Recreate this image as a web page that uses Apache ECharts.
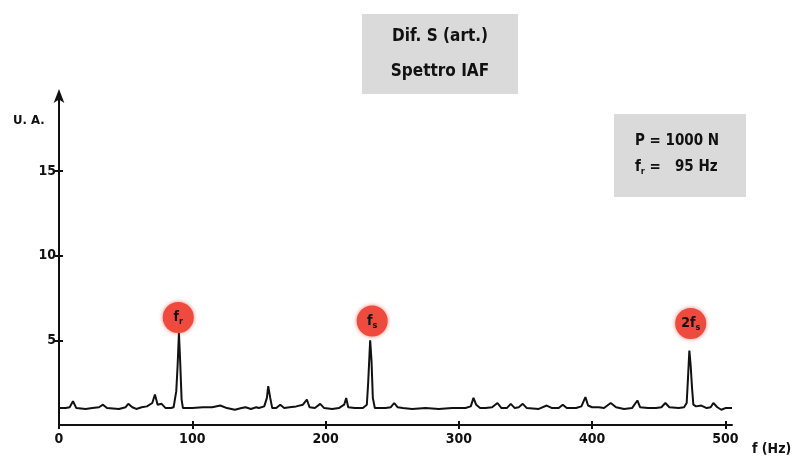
<!DOCTYPE html>
<html>
<head>
<meta charset="utf-8">
<script src="https://cdn.jsdelivr.net/npm/echarts@6/dist/echarts.min.js"></script>
<style>
html,body{margin:0;padding:0;background:#fff;}
#chart{width:800px;height:460px;}
</style>
</head>
<body>
<div id="chart"></div>
<script>
// ---- data ----
const freqHz = [0,5,8,10.5,13,20,25,30,33,36,45,50,52,55,58,62,66,70,72,74,77,80,84,86,88,89,90,91,92,93,
  100,108,115,121,126,132,137,140,144,148,150,154,156,157,158.5,160,163,166,169,173,178,183,186,188,192,196,199,
  205,210,214,215.5,217,222,228,231,232,233,233.5,234.5,235.5,237,245,249,251.5,254,258,265,275,285,295,
  300,305,309,311,313,316,320,325,329,332,336,339,342,345,348,351,360,366,370,375,378,381,388,392,395,397,
  400,405,409,414,418,424,430,434,436,442,448,452,455,458,465,469,471,472,473,474,475,476,478,482,486,489,491,494,497,500,505];
const amplitude = [1.0,1.0,1.05,1.4,1.0,0.95,1.0,1.05,1.2,1.0,0.95,1.05,1.25,1.05,0.95,1.05,1.1,1.3,1.8,1.2,1.25,1.0,1.0,1.05,2.0,3.5,5.45,3.6,1.5,1.0,
  1.0,1.05,1.05,1.15,1.0,0.9,1.0,1.05,0.95,1.05,1.0,1.1,1.6,2.3,1.6,1.0,1.0,1.2,1.0,1.05,1.1,1.2,1.5,1.05,1.0,1.25,1.0,
  0.95,1.0,1.2,1.6,1.05,1.0,1.0,1.2,2.5,4.2,5.0,3.8,1.6,1.0,1.0,1.05,1.3,1.05,1.0,0.95,1.0,0.95,1.0,
  1.0,1.0,1.1,1.6,1.2,1.0,1.0,1.05,1.3,1.0,1.0,1.25,1.0,1.05,1.25,1.0,0.95,1.15,1.0,1.0,1.2,1.0,1.0,1.1,1.65,1.15,
  1.05,1.05,1.0,1.3,1.05,0.95,1.0,1.45,1.05,1.0,1.0,1.05,1.3,1.05,1.0,1.05,1.3,2.8,4.4,3.5,2.2,1.2,1.1,1.15,1.0,1.05,1.3,1.05,0.9,1.0,1.0];
const xTickValues = [0,100,200,300,400,500];
const yTickValues = [5,10,15];
const markerFreq = [89.5, 235, 474];
const markerLevel = [6.35, 6.15, 6.0];
const markerText = ['{m|f}{s|r}', '{m|f}{s|s}', '{m|2f}{s|s}'];
const titleLines = ['Dif. S (art.)', 'Spettro IAF'];
const infoLine1 = 'P = 1000 N';
const infoLine2 = '{b|f}{s|r}{b| =   95 Hz}';

const FONT = "'Liberation Sans Narrow','DejaVu Sans Condensed','Roboto Condensed','Arial Narrow',sans-serif";

const chart = echarts.init(document.getElementById('chart'), null, {renderer: 'canvas'});
const seriesData = freqHz.map((f, i) => [f, amplitude[i]]);

const subRich = {
  m: {fontFamily: FONT, fontWeight: 'bold', fontSize: 14, color: '#111'},
  b: {fontFamily: FONT, fontWeight: 'bold', fontSize: 15, color: '#111'},
  s: {fontFamily: FONT, fontWeight: 'bold', fontSize: 9, color: '#111', padding: [9, 0, 0, 0]}
};

chart.setOption({
  backgroundColor: '#ffffff',
  animation: false,
  grid: {left: 59, right: 68, top: 95, bottom: 35, containLabel: false},
  xAxis: [{
    type: 'value', min: 0, max: 505, position: 'bottom',
    splitLine: {show: false},
    axisLine: {show: true, onZero: false, lineStyle: {color: '#111', width: 2}},
    axisTick: {show: true, length: 4, customValues: xTickValues, lineStyle: {color: '#111', width: 2}},
    axisLabel: {customValues: xTickValues, margin: 7, color: '#111', fontFamily: FONT, fontWeight: 'bold', fontSize: 14},
    name: 'f (Hz)', nameLocation: 'end', nameGap: 20,
    nameTextStyle: {color: '#111', fontFamily: FONT, fontWeight: 'bold', fontSize: 14, verticalAlign: 'top', padding: [17, 0, 0, 0]}
  }, {
    type: 'value', min: 0, max: 505, position: 'bottom',
    splitLine: {show: false}, axisLine: {show: false}, axisLabel: {show: false},
    axisTick: {show: true, inside: true, length: 4, customValues: xTickValues, lineStyle: {color: '#111', width: 2}}
  }],
  yAxis: [{
    type: 'value', min: 0, max: 19.5,
    splitLine: {show: false},
    axisLine: {show: true, onZero: false, symbol: ['none', 'arrow'], symbolSize: [8, 14], symbolOffset: [0, 6],
      lineStyle: {color: '#111', width: 2}},
    axisTick: {show: true, length: 4, customValues: yTickValues, lineStyle: {color: '#111', width: 2}},
    axisLabel: {customValues: yTickValues, margin: 3, color: '#111', fontFamily: FONT, fontWeight: 'bold', fontSize: 14},
  }, {
    type: 'value', min: 0, max: 19.5, position: 'left',
    splitLine: {show: false}, axisLine: {show: false}, axisLabel: {show: false},
    axisTick: {show: true, inside: true, length: 4, customValues: yTickValues, lineStyle: {color: '#111', width: 2}}
  }],
  series: [{
    type: 'line',
    data: seriesData,
    showSymbol: false,
    symbol: 'none',
    lineStyle: {color: '#111', width: 2},
    z: 3,
    markPoint: {
      symbol: 'circle',
      symbolSize: 31,
      itemStyle: {color: '#ee4a3e', shadowColor: 'rgba(238,74,62,0.7)', shadowBlur: 4},
      label: {show: true, position: 'inside', rich: subRich, formatter: p => p.data.txt},
      data: markerFreq.map((f, i) => ({coord: [f, markerLevel[i]], txt: markerText[i]}))
    }
  }],
  graphic: [
    {type: 'rect', left: 362, top: 14, shape: {width: 156, height: 80}, style: {fill: '#dadada'}, z: 1},
    {type: 'text', x: 440, y: 37, style: {text: titleLines[0], align: 'center', verticalAlign: 'middle',
      font: "bold 17px " + FONT, fill: '#111'}, z: 2},
    {type: 'text', x: 440, y: 72, style: {text: titleLines[1], align: 'center', verticalAlign: 'middle',
      font: "bold 17px " + FONT, fill: '#111'}, z: 2},
    {type: 'rect', left: 614, top: 114, shape: {width: 132, height: 83}, style: {fill: '#dadada'}, z: 1},
    {type: 'text', x: 635, y: 141, style: {text: infoLine1, align: 'left', verticalAlign: 'middle',
      font: "bold 15px " + FONT, fill: '#111'}, z: 2},
    {type: 'text', x: 635, y: 167, style: {text: infoLine2, align: 'left', verticalAlign: 'middle',
      rich: subRich, fill: '#111'}, z: 2},
    {type: 'text', x: 13, y: 121, style: {text: 'U. A.', align: 'left', verticalAlign: 'middle',
      font: "bold 13px " + FONT, fill: '#111'}, z: 2}
  ]
});
</script>
</body>
</html>
